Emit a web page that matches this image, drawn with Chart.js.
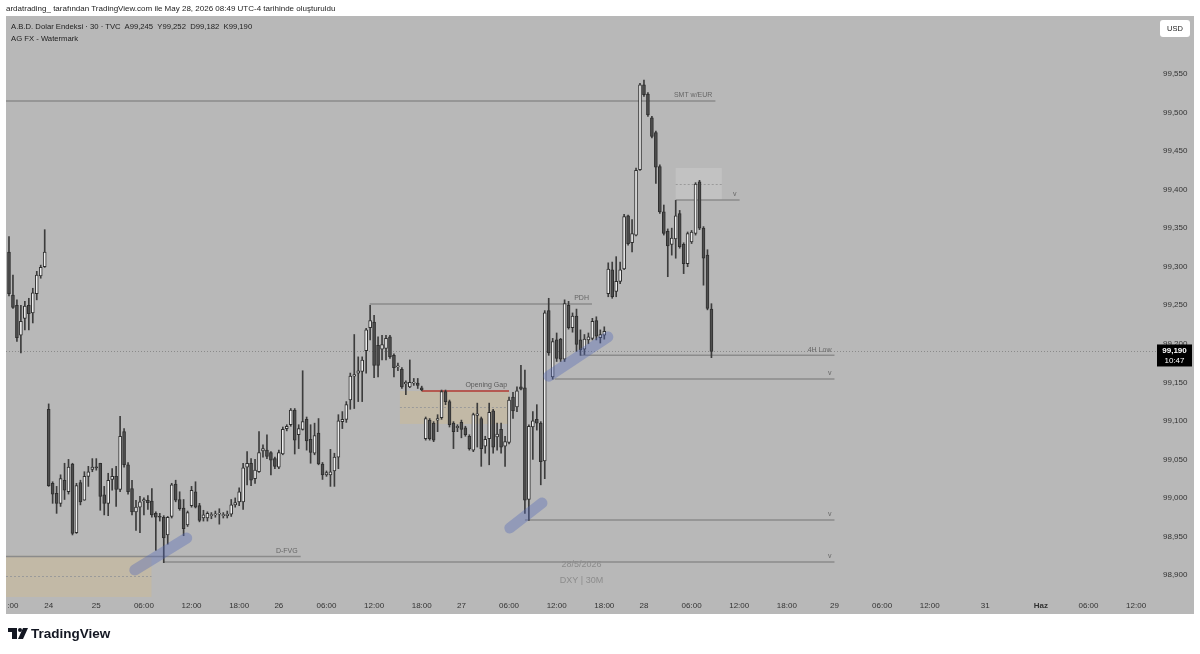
<!DOCTYPE html>
<html lang="tr">
<head>
<meta charset="UTF-8">
<title>DXY 30</title>
<script src="https://cdn.jsdelivr.net/npm/chart.js"></script>
<style>
  body { margin: 0; background: #fff; }
  #wrap { position: relative; width: 1200px; height: 654px; }
  #chart { position: absolute; left: 0; top: 0; }
  .t { position: absolute; font-family: "Liberation Sans", Arial, sans-serif; white-space: nowrap; color: #222; }
</style>
</head>
<body>
<div id="wrap">
  <canvas id="chart" width="1200" height="654"></canvas>
  <div class="t" style="left:6px;top:4px;font-size:8px;">ardatrading_ tarafından TradingView.com ile May 28, 2026 08:49 UTC-4 tarihinde oluşturuldu</div>
  <div class="t" style="left:11px;top:22px;font-size:7.7px;">A.B.D. Dolar Endeksi · 30 · TVC&nbsp; A99,245&nbsp; Y99,252&nbsp; D99,182&nbsp; K99,190</div>
  <div class="t" style="left:11px;top:34px;font-size:7.7px;">AG FX - Watermark</div>
</div>
<script>
// 30 minute candles, index 0 = first visible bar
const opens = [
  99.319, 99.263, 99.250, 99.211, 99.233, 99.250, 99.240, 99.265, 99.288, 99.300,
  99.115, 99.019, 99.006, 98.993, 99.023, 99.008, 99.044, 98.955, 99.020, 98.997,
  99.028, 99.037, 99.040, 99.045, 99.004, 98.993, 99.024, 99.028, 99.011, 99.086,
  99.043, 99.012, 98.982, 98.988, 98.996, 98.997, 98.996, 98.980, 98.976, 98.975,
  98.952, 98.976, 99.018, 98.998, 98.987, 98.965, 98.990, 99.008, 98.990, 98.974,
  98.974, 98.977, 98.978, 98.979, 98.977, 98.977, 98.979, 98.991, 98.995, 98.995,
  99.040, 99.045, 99.025, 99.034, 99.061, 99.062, 99.059, 99.051, 99.040, 99.057,
  99.090, 99.095, 99.114, 99.082, 99.089, 99.102, 99.076, 99.058, 99.084, 99.044,
  99.030, 99.030, 99.035, 99.053, 99.099, 99.102, 99.127, 99.158, 99.162, 99.164,
  99.191, 99.221, 99.228, 99.198, 99.193, 99.194, 99.209, 99.185, 99.170, 99.167,
  99.148, 99.144, 99.149, 99.149, 99.143, 99.077, 99.101, 99.097, 99.101, 99.104,
  99.138, 99.125, 99.097, 99.091, 99.098, 99.091, 99.080, 99.062, 99.107, 99.103,
  99.067, 99.077, 99.113, 99.079, 99.089, 99.067, 99.072, 99.131, 99.118, 99.144,
  99.143, 98.998, 99.092, 99.102, 99.097, 99.048, 99.243, 99.157, 99.205, 99.206,
  99.180, 99.250, 99.221, 99.236, 99.205, 99.193, 99.205, 99.207, 99.230, 99.208,
  99.211, 99.265, 99.296, 99.268, 99.281, 99.297, 99.366, 99.331, 99.341, 99.426,
  99.536, 99.524, 99.493, 99.474, 99.430, 99.371, 99.346, 99.329, 99.336, 99.369,
  99.329, 99.304, 99.332, 99.343, 99.410, 99.350, 99.315, 99.245
];
const highs = [
  99.339, 99.289, 99.257, 99.250, 99.255, 99.259, 99.272, 99.294, 99.302, 99.348,
  99.122, 99.021, 99.015, 99.030, 99.045, 99.050, 99.045, 99.019, 99.023, 99.034,
  99.041, 99.051, 99.051, 99.045, 99.015, 99.032, 99.038, 99.041, 99.106, 99.090,
  99.046, 99.023, 98.997, 99.002, 99.000, 99.003, 99.012, 98.982, 98.980, 98.977,
  98.976, 99.019, 99.023, 99.008, 98.998, 98.983, 99.015, 99.021, 98.993, 98.984,
  98.982, 98.981, 98.983, 98.986, 98.981, 98.983, 98.998, 99.000, 99.013, 99.045,
  99.060, 99.051, 99.050, 99.086, 99.069, 99.082, 99.060, 99.053, 99.062, 99.092,
  99.095, 99.116, 99.116, 99.095, 99.165, 99.105, 99.095, 99.097, 99.103, 99.046,
  99.035, 99.063, 99.058, 99.108, 99.112, 99.125, 99.162, 99.212, 99.183, 99.183,
  99.220, 99.250, 99.237, 99.209, 99.211, 99.211, 99.211, 99.187, 99.175, 99.169,
  99.152, 99.179, 99.155, 99.155, 99.145, 99.105, 99.103, 99.099, 99.108, 99.140,
  99.140, 99.127, 99.099, 99.095, 99.101, 99.093, 99.082, 99.110, 99.123, 99.105,
  99.080, 99.123, 99.115, 99.097, 99.097, 99.080, 99.131, 99.137, 99.144, 99.172,
  99.166, 99.095, 99.112, 99.121, 99.099, 99.243, 99.259, 99.207, 99.214, 99.207,
  99.257, 99.255, 99.240, 99.245, 99.218, 99.212, 99.214, 99.233, 99.235, 99.218,
  99.222, 99.305, 99.306, 99.313, 99.306, 99.368, 99.367, 99.361, 99.428, 99.538,
  99.542, 99.526, 99.495, 99.476, 99.432, 99.380, 99.349, 99.350, 99.386, 99.373,
  99.331, 99.345, 99.347, 99.409, 99.412, 99.352, 99.322, 99.252
];
const lows = [
  99.262, 99.246, 99.203, 99.188, 99.218, 99.218, 99.227, 99.257, 99.285, 99.299,
  99.015, 98.993, 98.980, 98.989, 98.998, 99.005, 98.952, 98.954, 98.991, 98.997,
  99.015, 99.034, 99.036, 98.984, 98.978, 98.977, 99.010, 98.989, 99.008, 99.040,
  99.005, 98.978, 98.958, 98.955, 98.978, 98.985, 98.975, 98.932, 98.970, 98.916,
  98.940, 98.974, 98.995, 98.984, 98.951, 98.963, 98.988, 98.987, 98.969, 98.970,
  98.970, 98.973, 98.975, 98.966, 98.974, 98.974, 98.976, 98.988, 98.990, 98.985,
  99.017, 99.016, 99.019, 99.033, 99.053, 99.051, 99.030, 99.038, 99.038, 99.056,
  99.087, 99.093, 99.057, 99.064, 99.088, 99.062, 99.045, 99.056, 99.043, 99.024,
  99.028, 99.015, 99.015, 99.038, 99.090, 99.098, 99.115, 99.116, 99.125, 99.125,
  99.162, 99.205, 99.156, 99.157, 99.179, 99.179, 99.181, 99.157, 99.165, 99.142,
  99.134, 99.143, 99.146, 99.142, 99.139, 99.075, 99.075, 99.073, 99.086, 99.102,
  99.121, 99.092, 99.064, 99.086, 99.078, 99.080, 99.062, 99.060, 99.066, 99.041,
  99.058, 99.043, 99.058, 99.062, 99.058, 99.041, 99.070, 99.103, 99.112, 99.140,
  98.980, 98.971, 99.050, 99.088, 99.017, 99.025, 99.185, 99.154, 99.177, 99.177,
  99.177, 99.219, 99.215, 99.190, 99.185, 99.186, 99.200, 99.205, 99.205, 99.201,
  99.206, 99.261, 99.259, 99.261, 99.278, 99.296, 99.328, 99.319, 99.340, 99.425,
  99.521, 99.495, 99.467, 99.408, 99.369, 99.341, 99.287, 99.315, 99.311, 99.324,
  99.291, 99.300, 99.330, 99.341, 99.348, 99.276, 99.244, 99.182
];
const closes = [
  99.265, 99.247, 99.208, 99.229, 99.249, 99.239, 99.266, 99.289, 99.299, 99.319,
  99.016, 99.005, 98.993, 99.025, 99.010, 99.040, 98.954, 99.016, 98.995, 99.028,
  99.034, 99.040, 99.039, 99.002, 98.993, 99.023, 99.028, 99.011, 99.080, 99.043,
  99.008, 98.982, 98.988, 98.995, 98.998, 98.994, 98.978, 98.975, 98.975, 98.948,
  98.975, 99.017, 98.997, 98.986, 98.960, 98.981, 99.010, 98.988, 98.971, 98.978,
  98.980, 98.977, 98.978, 98.979, 98.977, 98.979, 98.991, 98.994, 99.008, 99.039,
  99.045, 99.023, 99.036, 99.059, 99.064, 99.054, 99.049, 99.041, 99.059, 99.089,
  99.093, 99.114, 99.075, 99.090, 99.099, 99.074, 99.059, 99.081, 99.044, 99.030,
  99.033, 99.034, 99.053, 99.100, 99.102, 99.121, 99.158, 99.160, 99.165, 99.179,
  99.218, 99.230, 99.172, 99.172, 99.199, 99.207, 99.183, 99.169, 99.170, 99.144,
  99.150, 99.150, 99.149, 99.146, 99.140, 99.103, 99.077, 99.075, 99.103, 99.138,
  99.125, 99.095, 99.086, 99.093, 99.089, 99.082, 99.064, 99.108, 99.109, 99.064,
  99.076, 99.111, 99.066, 99.083, 99.066, 99.073, 99.127, 99.113, 99.139, 99.141,
  98.997, 99.093, 99.100, 99.097, 99.047, 99.240, 99.188, 99.203, 99.181, 99.180,
  99.252, 99.221, 99.236, 99.199, 99.192, 99.206, 99.209, 99.229, 99.210, 99.212,
  99.216, 99.297, 99.261, 99.281, 99.296, 99.365, 99.330, 99.343, 99.425, 99.536,
  99.523, 99.497, 99.469, 99.429, 99.371, 99.343, 99.327, 99.337, 99.366, 99.326,
  99.304, 99.343, 99.345, 99.407, 99.350, 99.311, 99.246, 99.190
];

const slotCount = 287;   // visible bar slots, including empty future space
const timeLabels = {
  1: ':00', 10: '24', 22: '25', 34: '06:00', 46: '12:00', 58: '18:00', 68: '26',
  80: '06:00', 92: '12:00', 104: '18:00', 114: '27', 126: '06:00', 138: '12:00',
  150: '18:00', 160: '28', 172: '06:00', 184: '12:00', 196: '18:00', 208: '29',
  220: '06:00', 232: '12:00', 246: '31', 260: 'Haz', 272: '06:00', 284: '12:00'
};
const priceTicks = [98.90, 98.95, 99.00, 99.05, 99.10, 99.15, 99.20, 99.25, 99.30, 99.35, 99.40, 99.45, 99.50, 99.55];
const yMin = 98.8702;
const yMax = 99.6239;
const lastPrice = 99.190;
const lastTime = '10:47';

// drawings on the chart, in bar index / price units
const levels = [
  { from: -2, to: 178, price: 99.515, label: 'SMT w/EUR' },
  { from: 90.9, to: 146.9, price: 99.2516, label: 'PDH' },
  { from: 144, to: 208, price: 99.185, label: '4H Low' },
  { from: 137.5, to: 208, price: 99.1543, label: 'v' },
  { from: 130, to: 208, price: 98.9714, label: 'v' },
  { from: 38.8, to: 208, price: 98.917, label: 'v' },
  { from: -2, to: 73.5, price: 98.924, label: 'D-FVG' },
  { from: 168, to: 184.1, price: 99.3865, label: 'v' }
];
const zones = [
  { from: -2, to: 35.9, top: 98.925, bottom: 98.8715, fill: '#c2b9a6' },
  { from: 98.5, to: 126, top: 99.1387, bottom: 99.096, fill: '#c2b9a6' },
  { from: 168, to: 179.6, top: 99.428, bottom: 99.3865, fill: '#c2c2c2' }
];
const gapLine = { from: 104, to: 126, price: 99.1387, label: 'Opening Gap' };
const strokes = [
  [31.7, 98.9065, 44.8, 98.948],
  [126.2, 98.961, 134.3, 98.9934],
  [136, 99.158, 150.9, 99.2088]
];

const F = '"Liberation Sans", Arial, sans-serif';
const fmt = v => v.toFixed(3).replace('.', ',');

const slots = Array.from({ length: slotCount }, (_, i) => String(i));
const bodies = opens.map((o, i) => [o, closes[i]]);
const wicks = lows.map((l, i) => [l, highs[i]]);
const isUp = opens.map((o, i) => closes[i] >= o);

const panel = {
  id: 'panel',
  beforeDraw(chart) {
    const c = chart.ctx;
    c.save();
    c.fillStyle = '#fff';
    c.fillRect(0, 0, chart.width, chart.height);
    c.fillStyle = '#b8b8b8';
    c.fillRect(6, 16, 1188, 598);
    c.restore();
  }
};

const drawings = {
  id: 'drawings',
  beforeDatasetsDraw(chart) {
    const { ctx: c, scales: { x, y }, chartArea: a } = chart;
    const px = i => Math.max(6, x.getPixelForValue(i));
    c.save();

    zones.forEach(z => {
      const x0 = px(z.from), x1 = px(z.to);
      const y0 = y.getPixelForValue(z.top), y1 = y.getPixelForValue(z.bottom);
      c.fillStyle = z.fill;
      c.fillRect(x0, y0, x1 - x0, y1 - y0);
      c.strokeStyle = '#9a9a9a';
      c.lineWidth = 1;
      c.setLineDash([2, 2]);
      c.beginPath();
      const ym = Math.round((y0 + y1) / 2) + 0.5;
      c.moveTo(x0, ym); c.lineTo(x1, ym);
      c.stroke();
      c.setLineDash([]);
    });

    // last price dotted line
    const yl = Math.round(y.getPixelForValue(lastPrice)) + 0.5;
    c.strokeStyle = '#8a8a8a';
    c.setLineDash([1, 2]);
    c.beginPath(); c.moveTo(6, yl); c.lineTo(1157, yl); c.stroke();
    c.setLineDash([]);

    // watermark
    c.fillStyle = '#8c8c8c';
    c.font = '9px ' + F;
    c.textAlign = 'center';
    c.textBaseline = 'middle';
    const cx = (a.left + a.right) / 2 + 5;
    c.fillText('28/5/2026', cx, a.bottom - 33);
    c.fillText('DXY | 30M', cx, a.bottom - 17);

    levels.forEach(l => {
      const x0 = px(l.from), x1 = px(l.to);
      const yy = y.getPixelForValue(l.price);
      c.strokeStyle = '#8b8b8b';
      c.lineWidth = 1.5;
      c.beginPath(); c.moveTo(x0, yy); c.lineTo(x1, yy); c.stroke();
      c.fillStyle = '#666';
      c.font = '7px ' + F;
      c.textAlign = 'right';
      c.textBaseline = 'bottom';
      c.fillText(l.label, x1 - 3, yy - 2);
    });

    const gx0 = px(gapLine.from), gx1 = px(gapLine.to);
    const gy = y.getPixelForValue(gapLine.price);
    c.strokeStyle = '#b23a32';
    c.lineWidth = 1.5;
    c.beginPath(); c.moveTo(gx0, gy); c.lineTo(gx1, gy); c.stroke();
    c.fillStyle = '#5a5a5a';
    c.font = '7px ' + F;
    c.textAlign = 'right';
    c.textBaseline = 'bottom';
    c.fillText(gapLine.label, gx1 - 2, gy - 2);
    c.restore();
  },
  afterDatasetsDraw(chart) {
    const { ctx: c, scales: { x, y } } = chart;
    c.save();
    c.strokeStyle = 'rgba(85,105,185,0.38)';
    c.lineWidth = 11;
    c.lineCap = 'round';
    strokes.forEach(s => {
      c.beginPath();
      c.moveTo(x.getPixelForValue(s[0]), y.getPixelForValue(s[1]));
      c.lineTo(x.getPixelForValue(s[2]), y.getPixelForValue(s[3]));
      c.stroke();
    });

    // last price badge
    const yl = y.getPixelForValue(lastPrice);
    c.fillStyle = '#000';
    c.fillRect(1157, yl - 7, 35, 22);
    c.fillStyle = '#fff';
    c.textAlign = 'center';
    c.textBaseline = 'middle';
    c.font = 'bold 8px ' + F;
    c.fillText(fmt(lastPrice), 1174.5, yl - 1);
    c.font = '8px ' + F;
    c.fillText(lastTime, 1174.5, yl + 9);

    // currency button
    c.fillStyle = '#fff';
    c.beginPath();
    c.roundRect(1160, 20, 30, 17, 3);
    c.fill();
    c.fillStyle = '#222';
    c.font = '7.5px ' + F;
    c.fillText('USD', 1175, 29);

    // TradingView logo
    c.fillStyle = '#131722';
    c.fillRect(8, 628, 9, 4);
    c.fillRect(12, 628, 5, 11);
    c.beginPath(); c.arc(20, 630, 2, 0, Math.PI * 2); c.fill();
    c.beginPath();
    c.moveTo(23, 628); c.lineTo(28, 628); c.lineTo(23, 639); c.lineTo(18, 639);
    c.closePath(); c.fill();
    c.textAlign = 'left';
    c.font = 'bold 13.5px ' + F;
    c.fillText('TradingView', 31, 634);
    c.restore();
  }
};

new Chart(document.getElementById('chart'), {
  type: 'bar',
  data: {
    labels: slots,
    datasets: [
      {
        label: 'body',
        data: bodies,
        backgroundColor: isUp.map(u => u ? '#eeeeee' : '#4e4e4e'),
        borderColor: '#2e2e2e',
        borderWidth: 1,
        borderSkipped: false,
        barThickness: 3,
        minBarLength: 1,
        grouped: false,
        order: 0
      },
      {
        label: 'wick',
        data: wicks,
        backgroundColor: '#3c3c3c',
        barThickness: 1,
        grouped: false,
        order: 1
      }
    ]
  },
  options: {
    responsive: false,
    animation: false,
    events: [],
    layout: { padding: { left: 7, right: 5, top: 17, bottom: 40 } },
    plugins: { legend: { display: false }, tooltip: { enabled: false } },
    scales: {
      x: {
        type: 'category',
        offset: true,
        grid: { display: false, drawTicks: false },
        border: { display: false },
        afterFit: s => { s.height = 16; },
        ticks: {
          autoSkip: false,
          maxRotation: 0,
          padding: 3,
          color: '#333',
          font: ctx => ({ family: F, size: 8, weight: ctx.tick && ctx.tick.label === 'Haz' ? 'bold' : 'normal' }),
          callback: (v, i) => timeLabels[i] ?? null
        }
      },
      y: {
        position: 'right',
        min: yMin,
        max: yMax,
        grid: { display: false, drawTicks: false },
        border: { display: false },
        afterBuildTicks: s => { s.ticks = priceTicks.map(v => ({ value: v })); },
        // labels sit inside the plot height, so no extra top/bottom room
        afterFit: s => { s.width = 49; s.paddingTop = 0; s.paddingBottom = 0; },
        ticks: {
          padding: 17,
          crossAlign: 'near',
          color: '#333',
          font: { family: F, size: 8 },
          callback: v => fmt(v)
        }
      }
    }
  },
  plugins: [panel, drawings]
});
</script>
</body>
</html>
